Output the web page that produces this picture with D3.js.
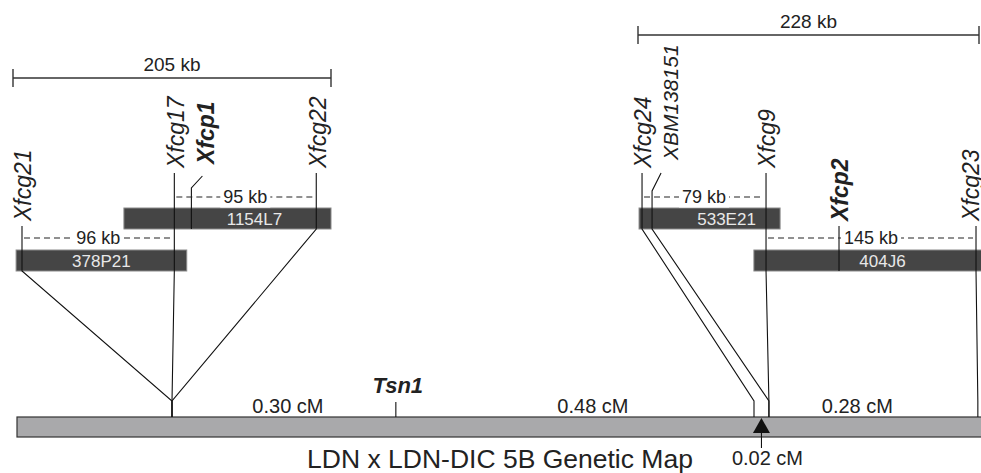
<!DOCTYPE html>
<html><head><meta charset="utf-8">
<script src="https://cdn.jsdelivr.net/npm/d3@7/dist/d3.min.js"></script>
<style>
body{margin:0;background:#fff}
svg{display:block}
text{font-family:"Liberation Sans",Arial,Helvetica,sans-serif;fill:#222}
</style>
</head><body>
<svg id="c" width="981" height="473"></svg>
<script>
// ---------------- data ----------------
const contigSpanKb = [205, 228];
const contigLabels = ["205 kb", "228 kb"];

const bacNames   = ["378P21", "1154L7", "533E21", "404J6"];
const bacContig  = [0, 0, 1, 1];
const bacRow     = [1, 0, 0, 1];
const bacStartKb = [2, 71.5, 0.7, 77.5];
const bacEndKb   = [112, 205, 95, 236];

const markerNames  = ["Xfcg21", "Xfcg17", "Xfcp1", "Xfcg22", "Xfcg24", "XBM138151", "Xfcg9", "Xfcp2", "Xfcg23"];
const markerContig = [0, 0, 0, 0, 1, 1, 1, 1, 1];
const markerKb     = [5.8, 104, 115, 195.5, 2.7, 9.4, 85.6, 134.4, 226];
const markerCM     = [0, 0, null, 0, 0.78, 0.80, 0.80, null, 1.08];
const markerBold   = [false, false, true, false, false, false, false, true, false];

const distFrom   = ["Xfcg21", "Xfcg17", "Xfcg24", "Xfcg9"];
const distTo     = ["Xfcg17", "Xfcg22", "Xfcg9", "Xfcg23"];
const distLabels = ["96 kb", "95 kb", "79 kb", "145 kb"];
const distRow    = [1, 0, 0, 1];

const intervalFromCM = [0, 0.30, 0.80];
const intervalToCM   = [0.30, 0.78, 1.08];
const intervalLabels = ["0.30 cM", "0.48 cM", "0.28 cM"];

const geneName = "Tsn1";
const geneCM = 0.30;
const smallIntervalCM = [0.78, 0.80];
const smallIntervalLabel = "0.02 cM";
const mapTitle = "LDN x LDN-DIC 5B Genetic Map";

// ---------------- layout ----------------
const W = 981, H = 473;
const svg = d3.select("#c");
const cmX = d3.scaleLinear().domain([0, 0.78]).range([172, 754]);
const kbX = [
  d3.scaleLinear().domain([0, contigSpanKb[0]]).range([13, 331]),
  d3.scaleLinear().domain([0, contigSpanKb[1]]).range([638, 979])
];
const Ly = {
  rowBoxTop: [208, 250], boxH: 21,
  rowLineTop: [173, 226], rowDash: [197, 238], rowLabelBottom: [168, 221],
  fanY: 401, barTop: 417, barH: 20, barLeft: 17,
  scaleBarY: [78, 35], scaleLabelY: [71, 28], tick: 9
};
const labelShift = {
  "Xfcp1":     {dx: 14, lift: 4, cdx: 11, cTop: 3, kink: 188},
  "XBM138151": {dx: 18, lift: 8, cdx: 9,  cTop: 0, kink: 191, size: 21}
};
const labelDx = {"Xfcg23": -5};
const bacLabelNudge = {"1154L7": 27, "533E21": 17, "404J6": 15};
const intervalNudge = [4, 18, -16];

// ---------------- scale bars ----------------
contigSpanKb.forEach((span, c) => {
  const x0 = kbX[c](0), x1 = kbX[c](span), y = Ly.scaleBarY[c];
  const g = svg.append("g").attr("stroke", "#333").attr("stroke-width", 1.4);
  g.append("line").attr("x1", x0).attr("x2", x1).attr("y1", y).attr("y2", y);
  [x0, x1].forEach(x => g.append("line").attr("x1", x).attr("x2", x).attr("y1", y - Ly.tick).attr("y2", y + Ly.tick));
  svg.append("text").attr("x", (x0 + x1) / 2).attr("y", Ly.scaleLabelY[c])
    .attr("text-anchor", "middle").attr("font-size", 19).text(contigLabels[c]);
});

// ---------------- BAC boxes ----------------
bacNames.forEach((name, i) => {
  const sx = kbX[bacContig[i]];
  const x0 = sx(bacStartKb[i]), x1 = sx(bacEndKb[i]);
  const y = Ly.rowBoxTop[bacRow[i]];
  svg.append("rect").attr("x", x0).attr("y", y).attr("width", x1 - x0).attr("height", Ly.boxH)
    .attr("fill", "#454545").attr("stroke", "#8a8a8a").attr("stroke-width", 1);
});

// ---------------- chromosome bar ----------------
svg.append("rect").attr("x", Ly.barLeft).attr("y", Ly.barTop).attr("width", W + 20 - Ly.barLeft).attr("height", Ly.barH)
  .attr("fill", "#a9a9ab").attr("stroke", "#333").attr("stroke-width", 1.2);

// ---------------- marker lines ----------------
const markerX = markerNames.map((n, i) => kbX[markerContig[i]](markerKb[i]));
markerNames.forEach((name, i) => {
  const c = markerContig[i], kb = markerKb[i];
  const rows = bacNames.map((b, j) => j).filter(j => bacContig[j] === c && bacStartKb[j] <= kb && kb <= bacEndKb[j]).map(j => bacRow[j]);
  const topRow = d3.min(rows), botRow = d3.max(rows);
  const x = markerX[i];
  const lineTop = Ly.rowLineTop[topRow];
  const lowBottom = Ly.rowBoxTop[botRow] + Ly.boxH;
  const p = d3.path();
  const s = labelShift[name];
  if (s) {
    p.moveTo(x + s.cdx, lineTop + s.cTop);
    p.lineTo(x, s.kink);
  } else {
    p.moveTo(x, lineTop);
  }
  p.lineTo(x, lowBottom);
  if (markerCM[i] !== null) {
    const lx = cmX(markerCM[i]);
    p.lineTo(lx, Ly.fanY);
    p.lineTo(lx, Ly.barTop);
  }
  svg.append("path").attr("d", p.toString()).attr("fill", "none").attr("stroke", "#111").attr("stroke-width", 1.1);

  // label
  const dx = s ? s.dx : (labelDx[name] !== undefined ? labelDx[name] : 1);
  const lift = s ? s.lift : 0;
  svg.append("text")
    .attr("transform", `translate(${x + dx},${Ly.rowLabelBottom[topRow] - lift}) rotate(-90)`)
    .attr("dy", "0.36em").attr("text-anchor", "start")
    .attr("font-size", s && s.size ? s.size : 23).attr("font-style", "italic")
    .attr("font-weight", markerBold[i] ? "bold" : "normal")
    .text(name);
});

// ---------------- BAC labels ----------------
bacNames.forEach((name, i) => {
  const sx = kbX[bacContig[i]];
  const x0 = sx(bacStartKb[i]), x1 = Math.min(sx(bacEndKb[i]), W);
  const y = Ly.rowBoxTop[bacRow[i]] + Ly.boxH / 2;
  svg.append("text").attr("x", (x0 + x1) / 2 + (bacLabelNudge[name] || 0)).attr("y", y).attr("dy", "0.36em")
    .attr("text-anchor", "middle").attr("font-size", 17).style("fill", "#e8e8e8").text(name);
});

// ---------------- distance annotations ----------------
distLabels.forEach((lab, i) => {
  const a = markerX[markerNames.indexOf(distFrom[i])];
  const b = markerX[markerNames.indexOf(distTo[i])];
  const y = Ly.rowDash[distRow[i]];
  svg.append("line").attr("x1", a + 2).attr("x2", b - 3).attr("y1", y).attr("y2", y)
    .attr("stroke", "#222").attr("stroke-width", 1.2).attr("stroke-dasharray", "6,4");
  const t = svg.append("text").attr("x", (a + b) / 2).attr("y", y).attr("dy", "0.36em")
    .attr("text-anchor", "middle").attr("font-size", 18).text(lab);
  const bb = t.node().getBBox();
  svg.insert("rect", () => t.node()).attr("x", bb.x - 3).attr("y", bb.y).attr("width", bb.width + 6).attr("height", bb.height).attr("fill", "#fff");
});

// ---------------- interval labels ----------------
intervalLabels.forEach((lab, i) => {
  const xm = (cmX(intervalFromCM[i]) + cmX(intervalToCM[i])) / 2 + intervalNudge[i];
  svg.append("text").attr("x", xm).attr("y", Ly.barTop - 4).attr("text-anchor", "middle").attr("font-size", 20).text(lab);
});

// ---------------- gene ----------------
const gx = cmX(geneCM);
svg.append("line").attr("x1", gx).attr("x2", gx).attr("y1", Ly.barTop - 15).attr("y2", Ly.barTop).attr("stroke", "#111").attr("stroke-width", 1.1);
svg.append("text").attr("x", gx + 2).attr("y", Ly.barTop - 24).attr("text-anchor", "middle")
  .attr("font-size", 22).attr("font-style", "italic").attr("font-weight", "bold").text(geneName);

// ---------------- small interval triangle ----------------
const tm = (cmX(smallIntervalCM[0]) + cmX(smallIntervalCM[1])) / 2;
svg.append("path").attr("d", `M${tm},${Ly.barTop + 1} L${tm + 8.5},${Ly.barTop + 16} L${tm - 8.5},${Ly.barTop + 16} Z`).attr("fill", "#111");
svg.append("line").attr("x1", tm).attr("x2", tm).attr("y1", Ly.barTop + 16).attr("y2", Ly.barTop + 31).attr("stroke", "#111").attr("stroke-width", 1.1);
svg.append("text").attr("x", tm + 6).attr("y", 465).attr("text-anchor", "middle").attr("font-size", 20).text(smallIntervalLabel);

// ---------------- title ----------------
svg.append("text").attr("x", 500).attr("y", 468).attr("text-anchor", "middle").attr("font-size", 26.5).text(mapTitle);
</script>
</body></html>
